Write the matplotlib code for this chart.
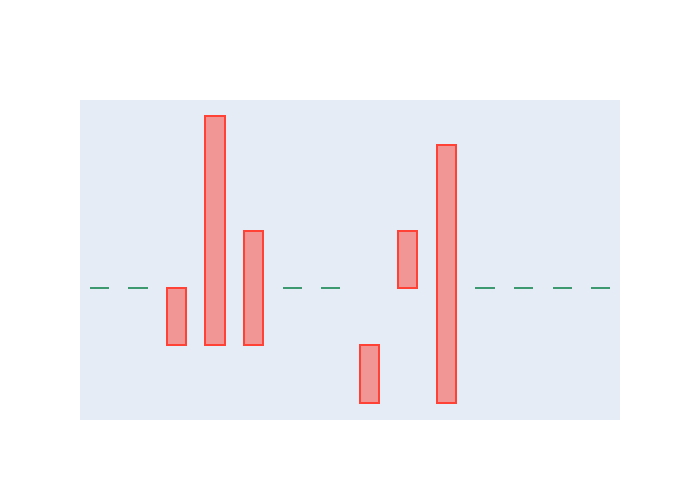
import numpy as np
import matplotlib
matplotlib.use('Agg')
import matplotlib.pyplot as plt

# candle values (no visible axis labels)
opens = [3, 3, 3, 6, 4, 3, 3, 2, 4, 5.5, 3, 3, 3, 3]
closes = [3, 3, 2, 2, 2, 3, 3, 1, 3, 1, 3, 3, 3, 3]

INC = '#3D9970'
DEC = '#FF4136'


def plot_candles(opens, closes):
    fig = plt.figure(figsize=(7, 5), dpi=100)
    ax = fig.add_axes([80 / 700, 80 / 500, 540 / 700, 320 / 500])
    ax.set_facecolor('#E5ECF6')
    x = np.arange(len(opens))
    o = np.array(opens, dtype=float)
    c = np.array(closes, dtype=float)
    flat = o == c
    down = ~flat
    lo = np.minimum(o, c)
    hi = np.maximum(o, c)
    ax.bar(x[down], (hi - lo)[down], bottom=lo[down], width=0.5,
           color=(1, 65 / 255, 54 / 255, 0.5), edgecolor=DEC, linewidth=1.44)
    ax.hlines(o[flat], x[flat] - 0.25, x[flat] + 0.25, color=INC, linewidth=1.44)
    ax.set_xlim(-0.5, len(opens) - 0.5)
    ax.set_ylim(0.70, 6.28)
    ax.set_xticks([])
    ax.set_yticks([])
    for s in ax.spines.values():
        s.set_visible(False)
    fig.savefig('out.png', dpi=100)


if __name__ == '__main__':
    plot_candles(opens, closes)
